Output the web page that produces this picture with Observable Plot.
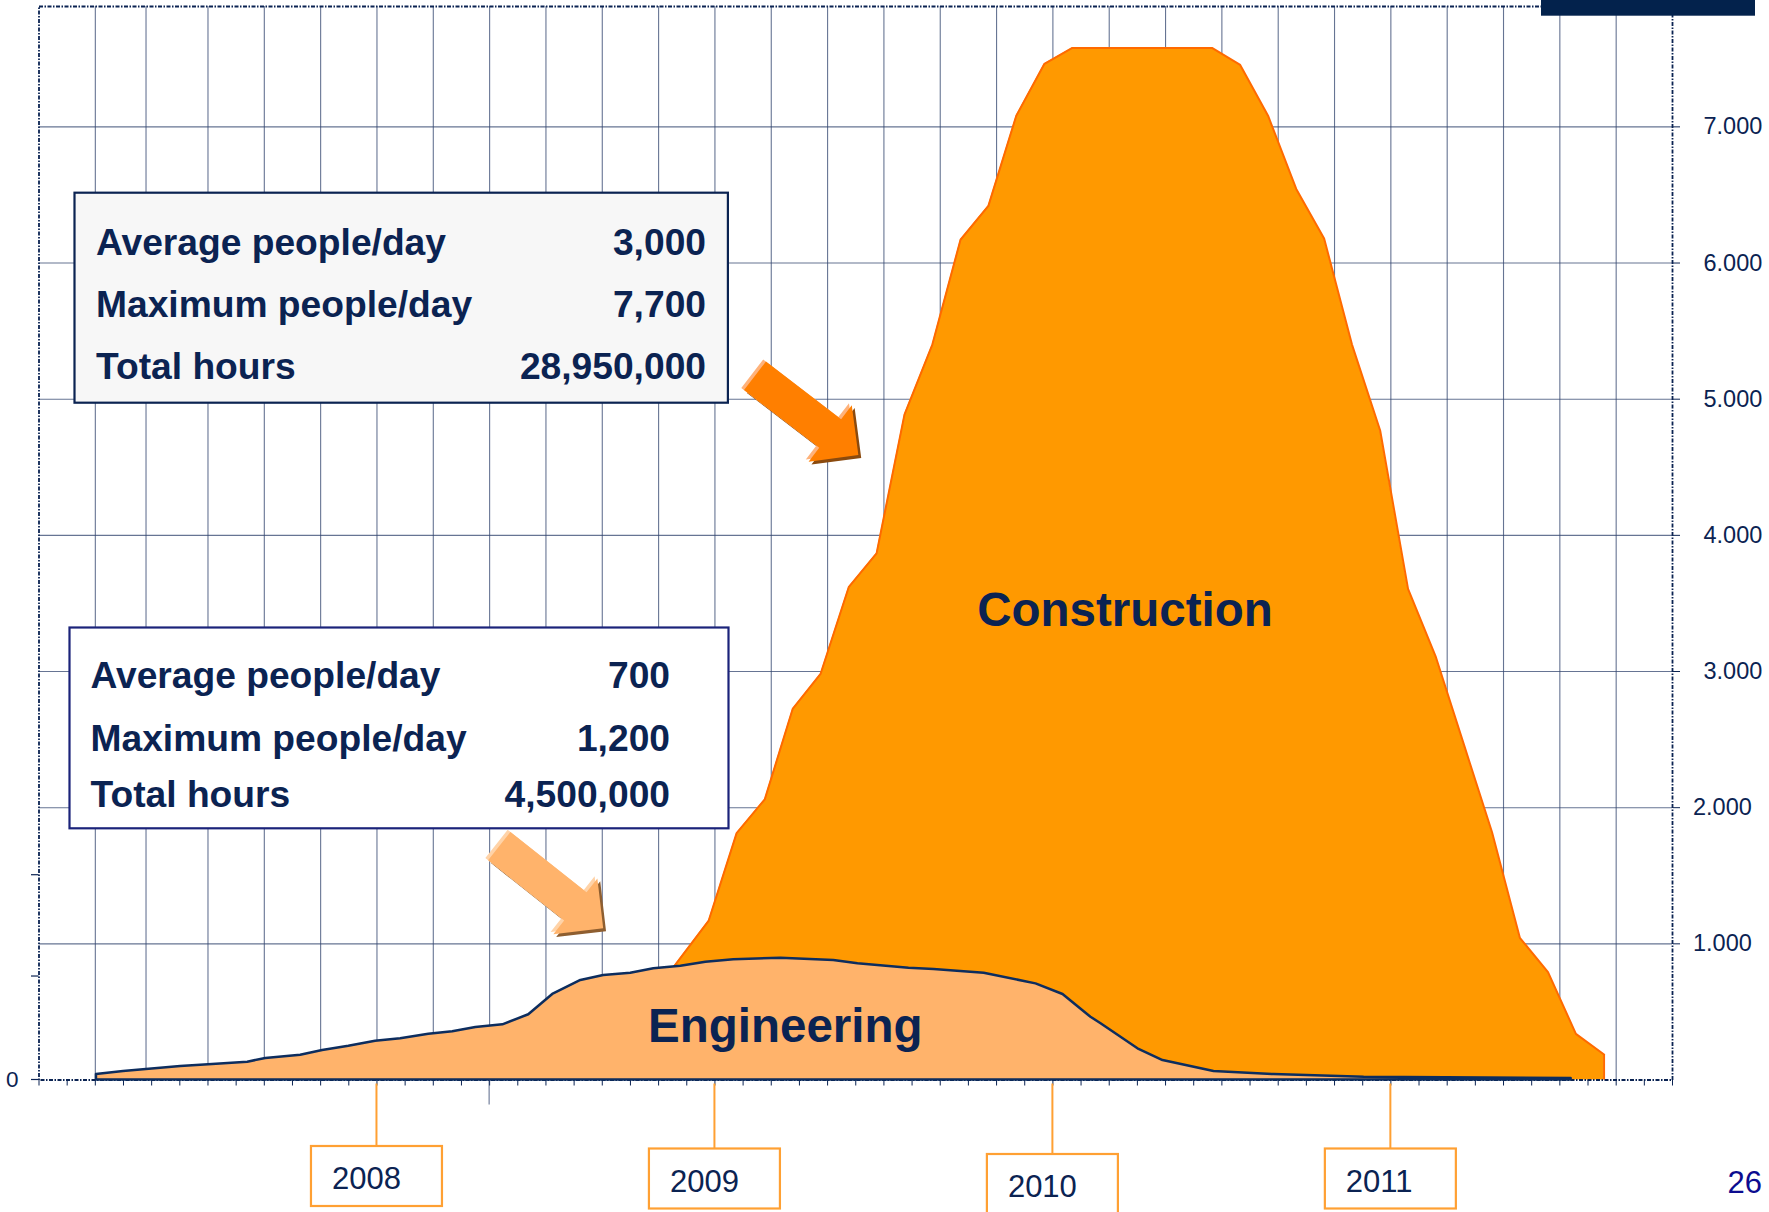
<!DOCTYPE html>
<html>
<head>
<meta charset="utf-8">
<script src="https://cdn.jsdelivr.net/npm/d3@7"></script>
<script src="https://cdn.jsdelivr.net/npm/@observablehq/plot@0.6"></script>
<style>
  html, body { margin: 0; padding: 0; background: #ffffff; overflow: hidden; }
  #chart svg { display: block; }
</style>
</head>
<body>
<div id="chart"></div>
<script>
// ---------------- DATA (x = months since January 2007, y = people per day) ----------------
const engMonth  = [2.04, 3.0, 5.03, 6.02, 7.41, 8.05, 9.29, 10.07, 11.0, 11.95, 12.84, 13.84, 14.69, 15.51, 16.47, 17.39, 18.24, 19.24, 20.05, 21.01, 21.83, 22.79, 23.68, 24.67, 26.34, 28.22, 29.08, 30.89, 31.78, 33.56, 35.4, 36.36, 37.35, 37.71, 39.02, 39.91, 41.72, 43.85, 47.05, 54.4];
const engPeople = [40, 62, 99, 112, 131, 158, 182, 217, 248, 285, 303, 336, 354, 386, 405, 479, 628, 731, 767, 784, 817, 836, 865, 883, 894, 878, 853, 821, 811, 784, 706, 628, 461, 413, 229, 143, 62, 40, 21, 11];

const conMonth  = [22.55, 23.78, 24.77, 25.77, 26.76, 27.75, 28.75, 29.74, 30.73, 31.72, 32.72, 33.71, 34.70, 35.70, 36.69, 41.65, 42.65, 43.64, 44.64, 45.63, 46.62, 47.62, 48.61, 49.60, 50.60, 51.59, 52.58, 53.58, 54.57, 55.57];
const conPeople = [835, 1171, 1813, 2061, 2725, 2982, 3619, 3868, 4887, 5401, 6171, 6420, 7082, 7463, 7580, 7580, 7455, 7082, 6544, 6180, 5401, 4770, 3607, 3105, 2459, 1821, 1044, 792, 339, 187];

const yTicksRight = [1000, 2000, 3000, 4000, 5000, 6000, 7000];
const yTicksLeft  = [0, 760, 1504];
const gridMonths  = [2, 3.8, 6, 8, 10, 12, 14, 16, 18, 20, 22, 24, 26, 28, 30, 32, 34, 36, 38, 40, 42, 44, 46, 48, 50, 52, 54, 56];
const monthTicks  = [0,1,2,3,4,5,6,7,8,9,10,11,12,13,14,15,16,17,18,19,20,21,22,23,24,25,26,27,28,29,30,31,32,33,34,35,36,37,38,39,40,41,42,43,44,45,46,47,48,49,50,51,52,53,54,55,56,57,58];
const yearLabels  = ["2008", "2009", "2010", "2011"];
const yearMonth   = [12, 24, 36, 48];

const statLabels = ["Average people/day", "Maximum people/day", "Total hours"];
const constructionStats = ["3,000", "7,700", "28,950,000"];
const engineeringStats  = ["700", "1,200", "4,500,000"];
const seriesNames = ["Construction", "Engineering"];
const pageNumber = "26";

// ---------------- STYLE ----------------
const FONT = "'Liberation Sans', Arial, Helvetica, sans-serif";
const NAVY = "#0b2352";
const GRID = "#33466f";
const W = 1769, H = 1212;

const con = conMonth.map((m, i) => ({month: m, people: conPeople[i]}));
const eng = engMonth.map((m, i) => ({month: m, people: engPeople[i]}));
const conLast = con[con.length - 1];

const chart = Plot.plot({
  width: W,
  height: H,
  marginLeft: 38.5,
  marginRight: 97,
  marginTop: 6,
  marginBottom: 132.5,
  style: {fontFamily: FONT, fontSize: "23.5px", color: NAVY, background: "white", overflow: "visible"},
  x: {domain: [0, 58], axis: "bottom", ticks: monthTicks, tickSize: 6, tickFormat: () => "", label: null},
  y: {domain: [0, 7884], axis: "right", ticks: yTicksRight, tickSize: 7, tickPadding: 24,
      tickFormat: d => d3.format(",")(d).replace(/,/g, "."), label: null},
  marks: [
    Plot.ruleY(yTicksRight, {y: d => d, stroke: GRID, strokeOpacity: 0.75, strokeWidth: 1.1}),
    Plot.ruleX(gridMonths, {x: d => d, stroke: GRID, strokeOpacity: 0.75, strokeWidth: 1.1}),
    Plot.areaY(con, {x: "month", y: "people", fill: "#FF9900"}),
    Plot.line(con, {x: "month", y: "people", stroke: "#FF6A00", strokeWidth: 2}),
    Plot.ruleX([conLast], {x: "month", y1: 0, y2: "people", stroke: "#FF6A00", strokeWidth: 2}),
    Plot.frame({stroke: NAVY, strokeWidth: 1.8, strokeDasharray: "4,1.5,1.5,1.5"}),
    Plot.areaY(eng, {x: "month", y: "people", fill: "#FFB36B", stroke: "#0d2d5e", strokeWidth: 2.5, strokeLinejoin: "round"}),
    Plot.text([seriesNames[0]], {x: () => 38.56, y: () => 3335, text: d => d, fontSize: 47.5, fontWeight: "bold",
      fill: NAVY, textAnchor: "middle", lineAnchor: "bottom"}),
    Plot.text([seriesNames[1]], {x: () => 26.5, y: () => 278, text: d => d, fontSize: 47.5, fontWeight: "bold",
      fill: NAVY, textAnchor: "middle", lineAnchor: "bottom"})
  ]
});

document.getElementById("chart").appendChild(chart);

// ---------------- ANNOTATIONS (positioned through the chart's scales) ----------------
const sx = chart.scale("x"), sy = chart.scale("y");
const X = v => sx.apply(v), Y = v => sy.apply(v);
const y0 = Y(0);
const svg = d3.select(chart);
const g = svg.append("g").attr("font-family", FONT).attr("text-anchor", "start");

// shift the two lowest right-axis labels like in the original
svg.selectAll("text").filter(function () { return this.textContent === "1.000" || this.textContent === "2.000"; })
  .attr("transform", function () { const t = d3.select(this).attr("transform"); return (t ? t + " " : "") + "translate(-10.5,0)"; });

// left axis ticks + "0"
yTicksLeft.forEach(v => {
  g.append("line").attr("x1", X(0) - 7.5).attr("x2", X(0)).attr("y1", Y(v)).attr("y2", Y(v))
    .attr("stroke", NAVY).attr("stroke-width", 1.2);
});
g.append("text").attr("x", X(0) - 20).attr("y", Y(0)).attr("dy", "0.35em").attr("text-anchor", "end")
  .attr("font-size", 22.5).attr("fill", NAVY).text("0");

// long tick under the axis
g.append("line").attr("x1", X(16)).attr("x2", X(16)).attr("y1", y0).attr("y2", y0 + 25)
  .attr("stroke", GRID).attr("stroke-opacity", 0.75).attr("stroke-width", 1.1);

// stat boxes
function statBox(b, values) {
  g.append("rect").attr("x", b.x).attr("y", b.y).attr("width", b.w).attr("height", b.h)
    .attr("fill", b.fill).attr("stroke", b.stroke).attr("stroke-width", 2.2);
  statLabels.forEach((lab, i) => {
    g.append("text").attr("x", b.labelX).attr("y", b.base[i]).attr("font-size", 37.2).attr("font-weight", "bold")
      .attr("text-anchor", "start").attr("fill", NAVY).text(lab);
    g.append("text").attr("x", b.valueX).attr("y", b.base[i]).attr("font-size", 37.2).attr("font-weight", "bold")
      .attr("text-anchor", "end").attr("fill", NAVY).text(values[i]);
  });
}
statBox({x: 74.5, y: 192.7, w: 653.4, h: 210, fill: "#f7f7f7", stroke: NAVY, labelX: 96, valueX: 706,
         base: [255, 317, 379]}, constructionStats);
statBox({x: 69.5, y: 627.5, w: 659, h: 200.8, fill: "#ffffff", stroke: "#1b237a", labelX: 90.5, valueX: 670,
         base: [688, 751, 807]}, engineeringStats);

// block arrows
function arrowPts(tail, tip, shaftW, headW, headLen) {
  const dx = tip[0] - tail[0], dy = tip[1] - tail[1], L = Math.hypot(dx, dy);
  const ux = dx / L, uy = dy / L, px = -uy, py = ux;
  const bx = tip[0] - ux * headLen, by = tip[1] - uy * headLen;
  return {ux, uy, pts: [
    [tail[0] + px * shaftW / 2, tail[1] + py * shaftW / 2],
    [bx + px * shaftW / 2, by + py * shaftW / 2],
    [bx + px * headW / 2, by + py * headW / 2],
    tip,
    [bx - px * headW / 2, by - py * headW / 2],
    [bx - px * shaftW / 2, by - py * shaftW / 2],
    [tail[0] - px * shaftW / 2, tail[1] - py * shaftW / 2]
  ]};
}
function drawArrow(tailData, tipData, colors) {
  const tail = [X(tailData[0]), Y(tailData[1])], tip = [X(tipData[0]), Y(tipData[1])];
  const a = arrowPts(tail, tip, 36, 71, 35.5);
  const path = (ox, oy) => "M" + a.pts.map(p => [p[0] + ox, p[1] + oy].join(",")).join("L") + "Z";
  g.append("path").attr("d", path(a.ux * 3 + 0.5, a.uy * 3 + 1)).attr("fill", colors.shadow);
  g.append("path").attr("d", path(-a.ux * 3.5, -a.uy * 3.5)).attr("fill", colors.light);
  g.append("path").attr("d", path(0, 0)).attr("fill", colors.main);
}
drawArrow([25.44, 5168], [29.11, 4586], {main: "#FF7F00", light: "#FFB27A", shadow: "#8B4A0E"});
drawArrow([16.36, 1714], [20.05, 1110], {main: "#FFB36B", light: "#FFD3A8", shadow: "#8E5E30"});

// year labels
const boxDrop = [66.5, 69, 74.5, 69];
yearLabels.forEach((yr, i) => {
  const xp = X(yearMonth[i]), top = y0 + boxDrop[i];
  g.append("line").attr("x1", xp).attr("x2", xp).attr("y1", y0 + 4).attr("y2", top)
    .attr("stroke", "#FFA033").attr("stroke-width", 2);
  g.append("rect").attr("x", xp - 65.5).attr("y", top).attr("width", 131).attr("height", 60)
    .attr("fill", "white").attr("stroke", "#FFA033").attr("stroke-width", 2.2);
  g.append("text").attr("x", xp - 65.5 + 21).attr("y", top + 43).attr("font-size", 31)
    .attr("text-anchor", "start").attr("fill", NAVY).text(yr);
});

// page number and corner bar
g.append("text").attr("x", 1762).attr("y", 1193).attr("text-anchor", "end").attr("font-size", 31)
  .attr("fill", "#0c0c8f").text(pageNumber);
g.append("rect").attr("x", 1541).attr("y", 0).attr("width", 214).attr("height", 15.7).attr("fill", "#03224c");
</script>
</body>
</html>
